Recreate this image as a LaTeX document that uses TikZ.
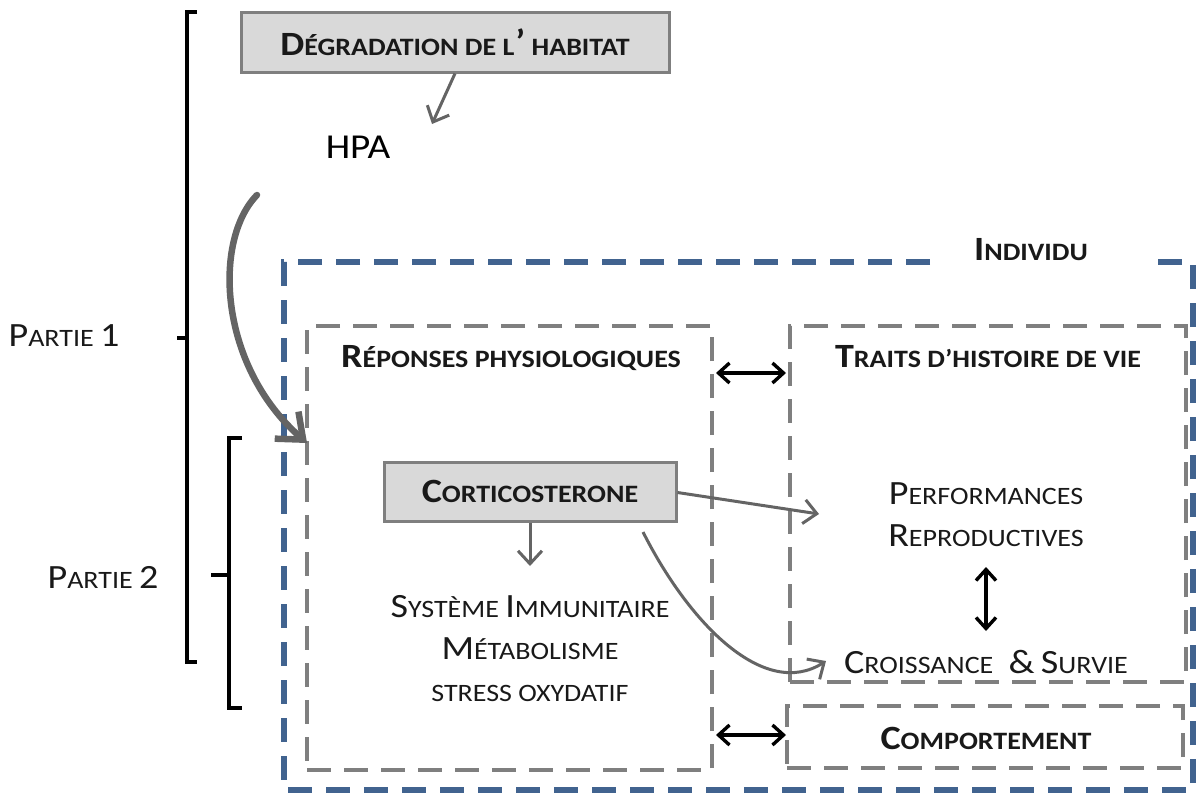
\documentclass[tikz,border=0pt]{standalone}
\usepackage{fontspec}
\usepackage{graphicx}
\setmainfont{Carlito}
\usetikzlibrary{arrows.meta}
\definecolor{bord}{HTML}{7F7F7F}
\definecolor{boxfill}{HTML}{D9D9D9}
\definecolor{indblue}{HTML}{41638F}
\definecolor{arrgray}{HTML}{646464}
\newcommand\Up[1]{{\fontsize{34}{42}\selectfont #1}}
\newcommand\HS[1]{\scalebox{1.12}[1]{#1}}
\tikzset{
  sctext/.style={font=\fontsize{25}{42}\selectfont, align=center, inner sep=0pt, text=black!90},
  sctitle/.style={sctext, font=\fontsize{25}{42}\selectfont\bfseries},
  graybox/.style={draw=bord, line width=3pt, fill=boxfill, inner sep=0pt},
  dashbox/.style={draw=bord, line width=3.4pt, dash pattern=on 24pt off 13pt, inner sep=0pt},
  thinarr/.style={draw=arrgray, line width=3pt, -{Straight Barb[length=13pt,width=24pt,line width=3pt]}},
  dblarr/.style={draw=black, line width=3.4pt, {Straight Barb[length=11pt,width=20pt,line width=3.4pt]}-{Straight Barb[length=11pt,width=20pt,line width=3.4pt]}},
  bigarr/.style={draw=arrgray, line width=6.5pt, line cap=round, -{Straight Barb[length=22pt,width=36pt,line width=6.5pt]}},
  brack/.style={draw=black, line width=3.4pt},
}
\begin{document}
\begin{tikzpicture}[x=1pt,y=-1pt]
\useasboundingbox (0,0) rectangle (1200,796);

% brackets
\draw[brack] (197,12) -- (187,12) -- (187,662) -- (197,662);
\draw[brack] (177,338) -- (187,338);
\draw[brack] (242,438) -- (229,438) -- (229,708) -- (242,708);
\draw[brack] (211,575) -- (229,575);
\node[sctext] (p1) at (64,336) {\HS{\Up{P}ARTIE \Up{1}}};
\node[sctext] (p2) at (103,577) {\HS{\Up{P}ARTIE \Up{2}}};

% top
\node[graybox, minimum width=428pt, minimum height=60pt] (deg) at (455,42) {};
\node[sctitle] (degt) at (deg.center) {\HS{\Up{D}ÉGRADATION DE L\kern1pt\raisebox{2pt}{\Up{’}} HABITAT}};
\node[inner sep=0pt, font=\fontsize{35}{40}\selectfont] (hpa) at (358,147) {\HS{HPA}};
\coordinate (hpaend) at (432,124);
\draw[thinarr] (deg.south) -- (hpaend);

% individu box
\draw[indblue, line width=6pt, dash pattern=on 24pt off 14pt] (930,262) -- (284,262) -- (284,790) -- (1193,790) -- (1193,262) -- (1145,262);
\node[sctitle] (ind) at (1031,250) {\HS{\Up{I}NDIVIDU}};

% sub boxes
\node[dashbox, minimum width=405pt, minimum height=444pt] (rep) at (509.5,548) {};
\node[dashbox, minimum width=396pt, minimum height=356pt] (traits) at (988,504) {};
\node[dashbox, minimum width=396pt, minimum height=62pt] (comp) at (985,737) {};

\node[sctitle] (rept) at (511,358) {\HS{\Up{R}ÉPONSES PHYSIOLOGIQUES}};
\node[sctitle] (traitst) at (988,357) {\HS{\Up{T}RAITS D’HISTOIRE DE VIE}};
\node[sctitle] (compt) at (986,738) {\HS{\Up{C}OMPORTEMENT}};

\coordinate (hpastart) at (257,195);
\coordinate (repin) at (307,443);
\draw[bigarr] (hpastart) .. controls (213,240) and (218,365) .. (repin);

% corticosterone
\node[graybox, minimum width=292pt, minimum height=59pt] (cort) at (530,491.5) {};
\node[sctitle] (cortt) at (cort.center) {\HS{\Up{C}ORTICOSTERONE}};
\node[sctext] (sys) at (530,649) {\HS{\Up{S}YSTÈME \Up{I}MMUNITAIRE}\\\HS{\Up{M}ÉTABOLISME}\\\HS{STRESS OXYDATIF}};
\node[sctext] (perf) at (986,515) {\HS{\Up{P}ERFORMANCES}\\\HS{\Up{R}EPRODUCTIVES}};
\node[sctext] (crois) at (986,662) {\HS{\Up{C}ROISSANCE\hspace{8pt} \Up{\&} \Up{S}URVIE}};

\coordinate (sysend) at (530,566);
\draw[thinarr] (cort.south) -- (sysend);
\coordinate (perfend) at (819,514);
\draw[thinarr] ([yshift=-1pt]cort.east) -- (perfend);
\coordinate (cstart) at (643,532);
\coordinate (croisend) at (826,661);
\draw[thinarr] (cstart) .. controls (690,625) and (765,700) .. (croisend);

% double arrows
\draw[dblarr] (716,373) -- (786,373);
\draw[dblarr] (716,735) -- (786,735);
\draw[dblarr] (986,567) -- (986,631);
\end{tikzpicture}
\end{document}
